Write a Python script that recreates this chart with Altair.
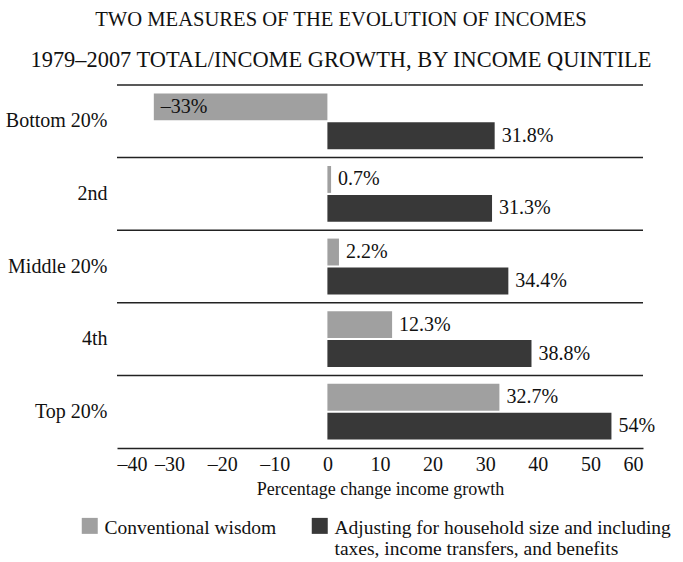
import altair as alt
import pandas as pd

quintiles = ["Bottom 20%", "2nd", "Middle 20%", "4th", "Top 20%"]
conventional = [-33, 0.7, 2.2, 12.3, 32.7]
adjusted = [31.8, 31.3, 34.4, 38.8, 54]
series = [
    "Conventional wisdom",
    "Adjusting for household size and including\ntaxes, income transfers, and benefits",
]
colors = ["#a0a0a0", "#383838"]
x_ticks = [-40, -30, -20, -10, 0, 10, 20, 30, 40, 50, 60]
title_line1 = "TWO MEASURES OF THE EVOLUTION OF INCOMES"
title_line2 = "1979–2007 TOTAL/INCOME GROWTH, BY INCOME QUINTILE"


def fmt(v):
    s = f"{abs(v):g}%"
    return ("–" if v < 0 else "") + s


rows = []
for q, c, a in zip(quintiles, conventional, adjusted):
    rows.append({"quintile": q, "series": series[0], "value": c, "label": fmt(c)})
    rows.append({"quintile": q, "series": series[1], "value": a, "label": fmt(a)})
df = pd.DataFrame(rows)
sep_df = pd.DataFrame({"quintile": quintiles})

FONT = "Liberation Serif"
INK = "#222222"
TXT = "#111111"

y_enc = alt.Y(
    "quintile:N",
    sort=quintiles,
    scale=alt.Scale(paddingInner=0, paddingOuter=0),
    axis=alt.Axis(
        title=None, domain=False, ticks=False, grid=False,
        labelFontSize=20, labelFont=FONT, labelColor=TXT, labelPadding=10,
    ),
)
yoff = alt.YOffset(
    "series:N", sort=series,
    scale=alt.Scale(paddingInner=0.07, paddingOuter=0.29),
)
x_enc = alt.X(
    "value:Q",
    scale=alt.Scale(domain=[-40, 60], nice=False, zero=False),
    axis=alt.Axis(
        values=x_ticks, grid=False, ticks=False,
        labelExpr="datum.value < 0 ? '–' + abs(datum.value) : '' + datum.value",
        labelFontSize=20, labelFont=FONT, labelColor=TXT, labelPadding=6,
        title="Percentage change income growth", titleFontSize=18, titleFont=FONT,
        titleFontWeight="normal", titleColor=TXT, titlePadding=6,
        domainColor=INK, domainWidth=1.5,
    ),
)

bars = alt.Chart(df).mark_bar().encode(
    x=x_enc,
    y=y_enc,
    yOffset=yoff,
    color=alt.Color(
        "series:N",
        sort=series,
        scale=alt.Scale(domain=series, range=colors),
        legend=alt.Legend(
            title=None, orient="none", legendX=-37, legendY=439,
            direction="horizontal", symbolType="M-1,-2H1V0H-1Z", symbolSize=256,
            symbolStrokeWidth=0, labelFontSize=19.5, labelFont=FONT,
            labelColor=TXT, labelLimit=0, columnPadding=33, labelOffset=5,
            labelBaseline="alphabetic",
            labelExpr="split(datum.label + (indexof(datum.label, '\\n') < 0 ? '\\n ' : ''), '\\n')",
        ),
    ),
)

labels = alt.Chart(df).mark_text(
    align="left", baseline="middle", dx=7, fontSize=20, font=FONT, color=TXT
).encode(
    x=alt.X("value:Q"),
    y=alt.Y("quintile:N", sort=quintiles),
    yOffset=alt.YOffset("series:N", sort=series),
    text="label:N",
)

seps = alt.Chart(sep_df).mark_rule(color=INK, strokeWidth=1.5).encode(
    y=alt.Y("quintile:N", sort=quintiles, bandPosition=0)
)

chart = (
    alt.layer(bars, labels, seps)
    .properties(
        width=526,
        height=363,
        autosize=alt.AutoSizeParams(type="none"),
        padding={"left": 117, "top": 85, "right": 40, "bottom": 114},
        title=alt.Title(
            text=title_line1, subtitle=title_line2,
            anchor="middle", frame="group", dx=-39, offset=13,
            fontSize=20.6, font=FONT, fontWeight="normal", color=TXT,
            subtitleFontSize=22.4, subtitleFont=FONT, subtitleColor=TXT,
            subtitleFontWeight="normal", subtitlePadding=18,
        ),
    )
    .configure(font=FONT)
    .configure_view(stroke=None)
)

chart.save("out.html", embed_options={"renderer": "svg", "actions": False})
